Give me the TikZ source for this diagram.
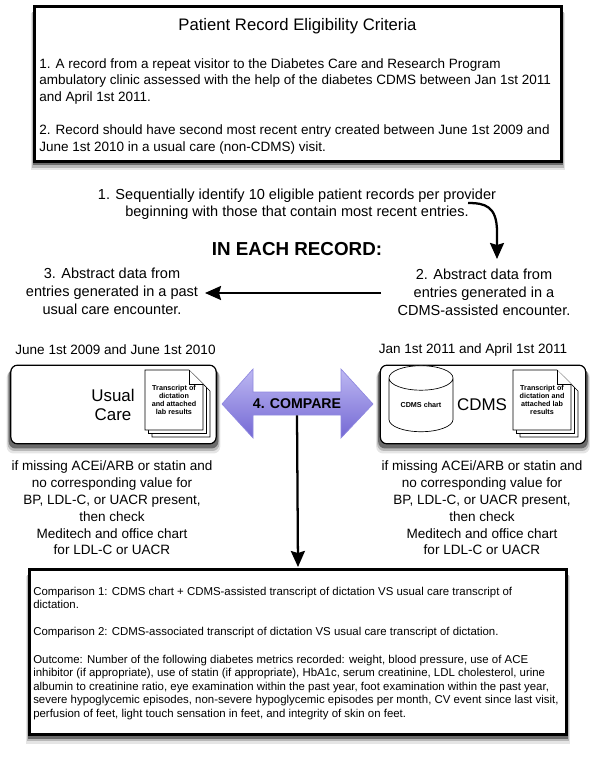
\documentclass[tikz,border=0pt]{standalone}
\usepackage{fontspec}
\setmainfont{Liberation Sans}
\usetikzlibrary{arrows.meta, backgrounds, shapes.geometric, calc}

\definecolor{arrowlight}{HTML}{BDB8F2}
\definecolor{arrowdark}{HTML}{7468D4}
\definecolor{arrowedge}{HTML}{8F88E0}
\definecolor{shadefar}{gray}{0.9}
\definecolor{shademid}{gray}{0.72}
\definecolor{shadenear}{gray}{0.42}

\tikzset{
    plain/.style={align=center, font=\fontsize{10.9}{13}\selectfont, inner sep=0pt},
    framebox/.style={draw, line width=2pt, inner sep=0pt, outer sep=0pt, fill=white},
    carebox/.style={draw, line width=0.9pt, rounded corners=5pt, fill=white, inner sep=0pt,
        minimum width=154pt, minimum height=59pt},
    smalltext/.style={align=left, font=\fontsize{8.57}{10.2}\selectfont, inner sep=0pt},
    sheet/.style={draw, line width=0.5pt, fill=white},
    tiny/.style={align=center, font=\bfseries\fontsize{5.4}{6.2}\selectfont, inner sep=0pt},
    bigarrow/.style={-{Stealth[length=12pt, width=10.5pt, inset=1.5pt]}, line width=1.7pt},
    checktext/.style={plain, font=\fontsize{10.15}{12.6}\selectfont},
    bigname/.style={plain, font=\fontsize{12.7}{14.2}\selectfont},
}

\newcommand{\docstack}[4]{%
    % three sheets, the front one with a folded corner
    \foreach \d in {7,3.5,0} {
        \draw[sheet] ($(#1,#2)+(\d,\d)$) -- ++(44,0) -- ++(14,14) -- ++(0,46) -- ++(-58,0) -- cycle;
    }
    \draw[sheet] (#1+44,#2) -- ++(0,14) -- ++(14,0);
    \node[tiny] (#3) at (#1+29,#2+30) {#4};
}

\begin{document}
\begin{tikzpicture}[x=0.75pt, y=-0.75pt]

    \useasboundingbox (0,0) rectangle (600,760);

    % top box
    \node[framebox, minimum width=395pt, minimum height=116pt] (criteria) at (298,84) {};
    \node[plain, font=\fontsize{12.5}{14}\selectfont] (title) at (297.5,26.5) {Patient Record Eligibility Criteria};
    \node[smalltext, font=\fontsize{10.13}{12.5}\selectfont, anchor=north west] (rules) at (39,58) {%
        1. A record from a repeat visitor to the Diabetes Care and Research Program\\
        ambulatory clinic assessed with the help of the diabetes CDMS between Jan 1st 2011\\
        and April 1st 2011.\\[12.5pt]
        2. Record should have second most recent entry created between June 1st 2009 and\\
        June 1st 2010 in a usual care (non-CDMS) visit.};

    % steps
    \node[plain, font=\fontsize{10.9}{12.8}\selectfont] (identify) at (297,204) {1. Sequentially identify 10 eligible patient records per provider\\
        beginning with those that contain most recent entries.};
    \node[plain, font=\bfseries\fontsize{14.1}{16}\selectfont] (each) at (297,249) {IN EACH RECORD:};
    \node[plain, font=\fontsize{10.9}{13.4}\selectfont] (cdmsdata) at (484,292) {2. Abstract data from\\entries generated in a\\CDMS-assisted encounter.};
    \node[plain, font=\fontsize{10.9}{13.4}\selectfont] (usualdata) at (112,291) {3. Abstract data from\\entries generated in a past\\usual care encounter.};

    \coordinate (bendstart) at (468,203);
    \coordinate (bendend) at (497,259);
    \draw[bigarrow] (bendstart) .. controls (485,203) and (497,206) .. (497,232) -- (bendend);
    \coordinate (flatstart) at (381,293);
    \coordinate (flatend) at (205,293);
    \draw[bigarrow] (flatstart) -- (flatend);

    % dates
    \node[plain, font=\fontsize{10.15}{12}\selectfont] (usualdate) at (115.5,350) {June 1st 2009 and June 1st 2010};
    \node[plain, font=\fontsize{10.15}{12}\selectfont] (cdmsdate) at (473,350) {Jan 1st 2011 and April 1st 2011};

    % usual care box
    \node[carebox] (usual) at (113.5,404.5) {};
    \node[bigname] (usuallabel) at (113,404.5) {Usual\\Care};
    \docstack{145}{370}{usualdoc}{Transcript of\\dictation\\and attached\\lab results}

    % cdms box
    \node[carebox] (cdms) at (483,404.5) {};
    \node[cylinder, shape border rotate=90, aspect=0.6, draw, line width=0.5pt, fill=white, inner sep=0pt,
        minimum width=48pt, minimum height=49.5pt, tiny] (chart) at (421,405) {CDMS chart};
    \node[bigname] (cdmslabel) at (482,405) {CDMS};
    \docstack{513}{370}{cdmsdoc}{Transcript of\\dictation and\\attached lab\\results}

    % compare arrow
    \path[top color=arrowlight, bottom color=arrowdark, draw=arrowedge, line width=0.5pt]
        (222,404) -- (253,369) -- (253,392) -- (341,392) -- (341,369) -- (373,404)
        -- (341,438) -- (341,415) -- (253,415) -- (253,438) -- cycle;
    \node[plain, font=\bfseries\fontsize{10.6}{12}\selectfont, minimum height=16.5pt] (compare) at (297,404) {4. COMPARE};

    % checks
    \node[checktext] (usualcheck) at (112,508) {if missing ACEi/ARB or statin and\\
        no corresponding value for\\BP, LDL-C, or UACR present,\\then check\\Meditech and office chart\\for LDL-C or UACR};
    \node[checktext] (cdmscheck) at (482,508) {if missing ACEi/ARB or statin and\\
        no corresponding value for\\BP, LDL-C, or UACR present,\\then check\\Meditech and office chart\\for LDL-C or UACR};

    % bottom box
    \node[framebox, minimum width=403pt, minimum height=123.75pt] (outcome) at (298,652) {};
    \node[smalltext, anchor=north west] (outcometext) at (33,586.5) {%
        Comparison 1: CDMS chart + CDMS-assisted transcript of dictation VS usual care transcript of\\
        dictation.\\[10.2pt]
        Comparison 2: CDMS-associated transcript of dictation VS usual care transcript of dictation.\\[10.2pt]
        Outcome: Number of the following diabetes metrics recorded: weight, blood pressure, use of ACE\\
        inhibitor (if appropriate), use of statin (if appropriate), HbA1c, serum creatinine, LDL cholesterol, urine\\
        albumin to creatinine ratio, eye examination within the past year, foot examination within the past year,\\
        severe hypoglycemic episodes, non-severe hypoglycemic episodes per month, CV event since last visit,\\
        perfusion of feet, light touch sensation in feet, and integrity of skin on feet.};

    \draw[bigarrow] (compare.south) -- ($(outcome.north)+(0,-2.5)$);

    % shadows under the four boxes
    \begin{scope}[on background layer]
        \foreach \boxname/\rad in {criteria/0pt, outcome/0pt, usual/5pt, cdms/5pt} {
            \fill[shadefar, rounded corners=\rad] ($(\boxname.north west)+(-3.5,6)$) rectangle ($(\boxname.south east)+(3.5,9)$);
            \fill[shademid, rounded corners=\rad] ($(\boxname.north west)+(-2.5,5)$) rectangle ($(\boxname.south east)+(2.5,6.5)$);
            \fill[shadenear, rounded corners=\rad] ($(\boxname.north west)+(-1.5,4)$) rectangle ($(\boxname.south east)+(1.5,4)$);
        }
    \end{scope}

\end{tikzpicture}
\end{document}
